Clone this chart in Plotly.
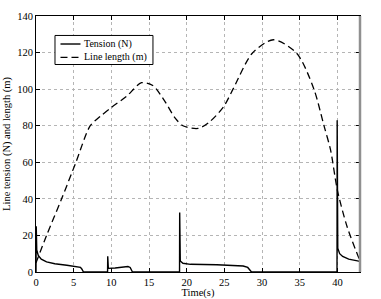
import plotly.graph_objects as go

# Tension (N)
tension_t = [0, 0.03, 0.1, 0.3, 0.7, 1.4, 2.5, 4.1, 5.6, 5.9, 6.1, 6.3,
             9.5, 9.52, 9.6, 10.5, 11.5, 12.2, 12.5, 12.8,
             19.05, 19.07, 19.15, 19.5, 20.5, 24, 27.5, 28.1, 28.6,
             39.95, 39.97, 40.05, 40.3, 40.7, 41.5, 42.3, 43]
tension_v = [0, 25, 12, 9, 7, 5.5, 4.5, 3.7, 2.8, 2.5, 1.5, 0,
             0, 8.6, 2, 2.2, 2.5, 3, 2.5, 0,
             0, 32.5, 6, 4.8, 4.2, 4, 3.3, 2.5, 0,
             0, 83, 13, 10, 8.5, 7, 6.3, 5.8]

# Line length (m)
length_t = [0, 1.4, 3.4, 5.3, 7.2, 8.5, 10, 12, 14, 15.5, 17, 18.5, 19.5,
            21.5, 23, 24.9, 26.2, 28.7, 31.5, 34.6, 36.85, 38.2, 39.1, 40, 41.3, 43]
length_v = [5, 20, 40, 60, 80, 85, 90, 96, 103.5, 102, 94, 84, 80,
            78.5, 82, 90.4, 100.4, 119.6, 127, 119.6, 100.4, 80.3, 66.6, 44.7, 24.6, 6]

x_ticks = [0, 5, 10, 15, 20, 25, 30, 35, 40]
y_ticks = [0, 20, 40, 60, 80, 100, 120, 140]
legend_labels = ["Tension (N)", "Line length (m)"]

font = "Liberation Serif"
FS = 10.5
LFS = 10

fig = go.Figure()
fig.add_trace(go.Scatter(x=tension_t, y=tension_v, mode="lines", name=legend_labels[0],
                         line=dict(color="black", width=1.4), showlegend=False))
fig.add_trace(go.Scatter(x=length_t, y=length_v, mode="lines", name=legend_labels[1],
                         line=dict(color="black", width=1.3, dash="7px,4px", shape="spline",
                                   smoothing=0.8), showlegend=False))

axis_common = dict(showline=True, linecolor="black", linewidth=1, mirror="ticks",
                   ticks="inside", ticklen=4, tickcolor="black", automargin=False,
                   showgrid=True, gridcolor="#b5b5b5", griddash="dot", gridwidth=1,
                   zeroline=False, tickfont=dict(family=font, size=FS, color="black"))

fig.update_xaxes(range=[0, 43], tickvals=x_ticks, **axis_common,
                 title=dict(text="Time(s)", font=dict(family=font, size=FS, color="black"), standoff=0))
fig.update_yaxes(range=[0, 140], tickvals=y_ticks, **axis_common,
                 title=dict(text="Line tension (N) and length (m)",
                            font=dict(family=font, size=FS, color="black"), standoff=4))

# right border (grey)
fig.add_shape(type="line", xref="paper", yref="paper", x0=1, x1=1, y0=0, y1=1,
              line=dict(color="#909090", width=2.5))

# manual legend box
fig.add_shape(type="rect", xref="paper", yref="paper", x0=0.0586, x1=0.361, y0=0.8105, y1=0.924,
              line=dict(color="black", width=1), fillcolor="white", layer="above")
fig.add_shape(type="line", xref="paper", yref="paper", x0=0.0756, x1=0.1373, y0=0.8906, y1=0.8906,
              line=dict(color="black", width=1.4), layer="above")
fig.add_shape(type="line", xref="paper", yref="paper", x0=0.0756, x1=0.1373, y0=0.8387, y1=0.8387,
              line=dict(color="black", width=1.3, dash="7px,4px"), layer="above")
for lab, yy in zip(legend_labels, [0.8906, 0.8387]):
    fig.add_annotation(xref="paper", yref="paper", x=0.1435, y=yy, text=lab, showarrow=False,
                       xanchor="left", yanchor="middle",
                       font=dict(family=font, size=LFS, color="black"))

fig.update_layout(
    width=381, height=299,
    margin=dict(l=36, r=21, t=16, b=27),
    paper_bgcolor="white", plot_bgcolor="white",
    font=dict(family=font, size=FS, color="black"),
    showlegend=False,
)

fig.write_html("out.html", config={"displayModeBar": False},
               post_script="document.body.style.margin='0px';")
